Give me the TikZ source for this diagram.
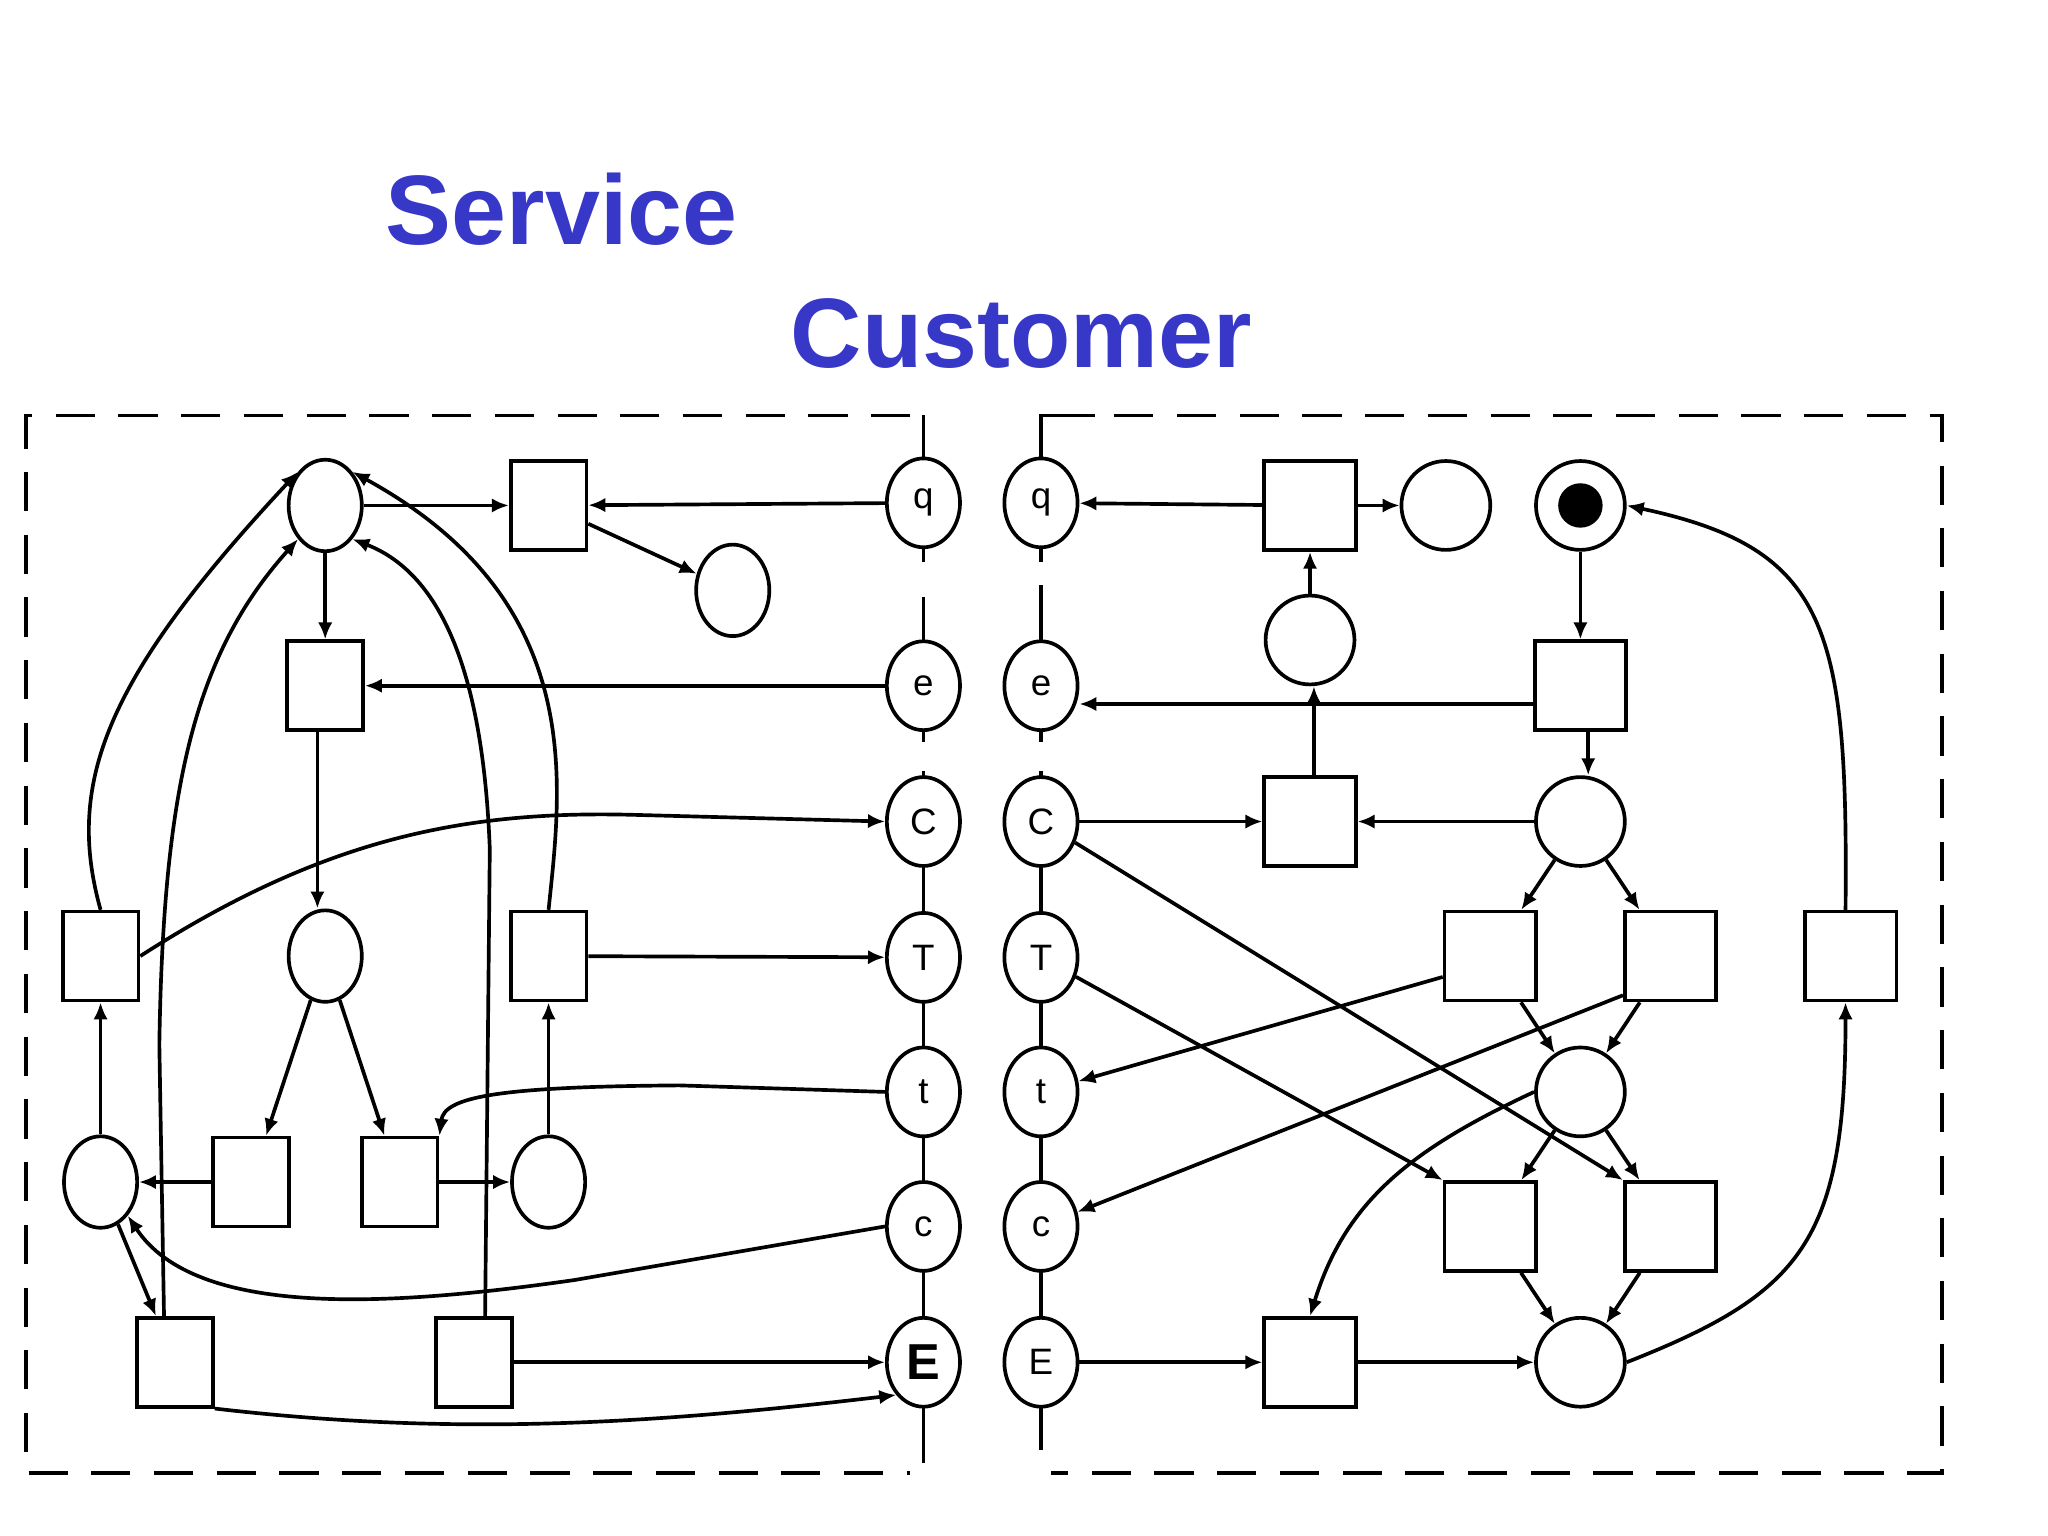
\documentclass[tikz,border=0pt]{standalone}
\usepackage{fontspec}
\setmainfont{Liberation Sans}
\usetikzlibrary{arrows.meta,shapes.geometric}
\definecolor{ttlc}{RGB}{55,55,200}
\begin{document}
\begin{tikzpicture}[x=0.01cm,y=-0.01cm,
  every path/.style={line width=0.8pt},
  pl/.style={draw,ellipse,minimum width=0.56cm,minimum height=0.7cm,inner sep=0pt,fill=white},
  ip/.style={draw,ellipse,minimum width=0.56cm,minimum height=0.68cm,inner sep=0pt,fill=white,font=\fontsize{8}{9}\selectfont},
  rp/.style={draw,circle,minimum size=0.68cm,inner sep=0pt,fill=white},
  tl/.style={draw,minimum width=0.58cm,minimum height=0.68cm,inner sep=0pt,fill=white},
  tr/.style={draw,minimum width=0.7cm,minimum height=0.68cm,inner sep=0pt,fill=white},
  a/.style={-{Latex[length=1.3mm,width=1.1mm]}},
  dsh/.style={dash pattern=on 0.3cm off 0.18cm},
  ttl/.style={font=\fontsize{21.5}{26}\selectfont\bfseries,text=ttlc}]
\useasboundingbox (0,0) rectangle (1568,1176);
\node[ttl] (s) at (430,160) {Service};
\node[ttl] (cu) at (782,255) {Customer};
% boxes
\draw[dsh] (697,318) -- (20,318) -- (20,1128) -- (697,1128);
\draw[dsh] (805,318) -- (1487,318) -- (1487,1128) -- (805,1128);
\draw (707,318) -- (707,430) (707,457) -- (707,568) (707,590) -- (707,1120);
\draw (797,1110) -- (797,590) (797,568) -- (797,448) (797,430) -- (797,318) -- (838,318);
% interface
\foreach \n/\y/\l in {q/385/q,e/525/e,C/629/C,T/733/T,t/836/t,c/939/c}{
  \node[ip] (L\n) at (707,\y) {\l};
  \node[ip] (R\n) at (797,\y) {\l};}
\node[ip,font=\fontsize{11}{12}\selectfont\bfseries] (LE) at (707,1043) {E};
\node[ip] (RE) at (797,1043) {E};
% left net
\node[pl] (P1) at (249,387) {};
\node[tl] (T1) at (420,387) {};
\node[pl] (P2) at (561,452) {};
\node[tl] (T2) at (249,525) {};
\node[pl] (P3) at (249,732) {};
\node[tl] (TL) at (77,732) {};
\node[tl] (TR) at (420,732) {};
\node[pl] (PL) at (77,905) {};
\node[tl] (Ta) at (192,905) {};
\node[tl] (Tb) at (306,905) {};
\node[pl] (PR) at (420,905) {};
\node[tl] (Tc) at (134,1043) {};
\node[tl] (Td) at (363,1043) {};
\draw[a] (P1) -- (T1);
\draw[a] (Lq) -- (T1);
\draw[a] (T1) -- (P2);
\draw[a] (P1) -- (T2);
\draw[a] (Le) -- (T2);
\draw[a] (T2.south -| 243,0) -- (P3.north -| 243,0);
\draw[a] (P3) -- (Ta);
\draw[a] (P3) -- (Tb);
\draw[a] (Ta) -- (PL);
\draw[a] (Tb) -- (PR);
\draw[a] (PR) -- (TR);
\draw[a] (TR) -- (LT);
\draw[a] (PL) -- (TL);
\draw[a] (TR.north) .. controls (430,600) and (450,460) .. (P1.north east);
\draw[a] (TL.north) .. controls (50,600) and (80,520) .. (P1.north west);
\draw[a] (TL.east) .. controls (250,640) and (360,620) .. (490,624) -- (LC.west);
\draw[a] (Lt.west) -- (520,831) .. controls (380,832) and (340,840) .. (Tb.north east);
\draw[a] (Lc.west) -- (440,980) .. controls (300,1000) and (150,1010) .. (PL.south east);
\draw[a] (PL) -- (Tc);
\draw[a] (Tc.north west) ++(22,0) -- (122,800) .. controls (125,600) and (150,500) .. (P1.south west);
\draw[a] (Td.north east) ++(-22,0) -- (375,650) .. controls (370,520) and (340,440) .. (P1.south east);
\draw[a] (Td) -- (LE);
\draw[a] (Tc.south east) .. controls (350,1100) and (500,1090) .. (LE.south west);
% right net
\node[tr] (Tq) at (1003,387) {};
\node[rp] (Pq) at (1107,387) {};
\node[rp] (Pt) at (1210,387) {};
\fill (Pt) circle (0.17cm);
\node[rp] (Pm) at (1003,490) {};
\node[tr] (Te) at (1210,525) {};
\node[tr] (TC) at (1003,629) {};
\node[rp] (PC) at (1210,629) {};
\node[tr] (T5) at (1141,732) {};
\node[tr] (T6) at (1279,732) {};
\node[tr] (T7) at (1417,732) {};
\node[rp] (P5) at (1210,836) {};
\node[tr] (T8) at (1141,939) {};
\node[tr] (T9) at (1279,939) {};
\node[tr] (TE) at (1003,1043) {};
\node[rp] (PE) at (1210,1043) {};
\draw[a] (Tq) -- (Rq);
\draw[a] (Tq) -- (Pq);
\draw[a] (Pm) -- (Tq);
\draw[a] (TC.north -| 1006,0) -- (Pm.south -| 1006,0);
\draw[a] (Te.west |- 0,539) -- (Re.east |- 0,539);
\draw[a] (Pt) -- (Te);
\draw[a] (Te.south -| 1216,0) -- (PC.north -| 1216,0);
\draw[a] (PC) -- (TC);
\draw[a] (RC) -- (TC);
\draw[a] (PC) -- (T5);
\draw[a] (PC) -- (T6);
\draw[a] (T5) -- (P5);
\draw[a] (T6) -- (P5);
\draw[a] (P5) -- (T8);
\draw[a] (P5) -- (T9);
\draw[a] (T8) -- (PE);
\draw[a] (T9) -- (PE);
\draw[a] (T5.west |- 0,748) -- (Rt);
\draw[a] (T6.west |- 0,762) -- (Rc);
\draw[a] (RC) -- (T9.north west);
\draw[a] (RT) -- (T8.north west);
\draw[a] (P5.west) .. controls (1080,880) and (1030,920) .. (TE.north);
\draw[a] (RE) -- (TE);
\draw[a] (TE) -- (PE);
\draw[a] (PE.east) .. controls (1380,990) and (1413,950) .. (T7.south -| 1413,0);
\draw[a] (T7.north -| 1413,0) .. controls (1415,480) and (1400,420) .. (Pt.east);
\end{tikzpicture}
\end{document}
